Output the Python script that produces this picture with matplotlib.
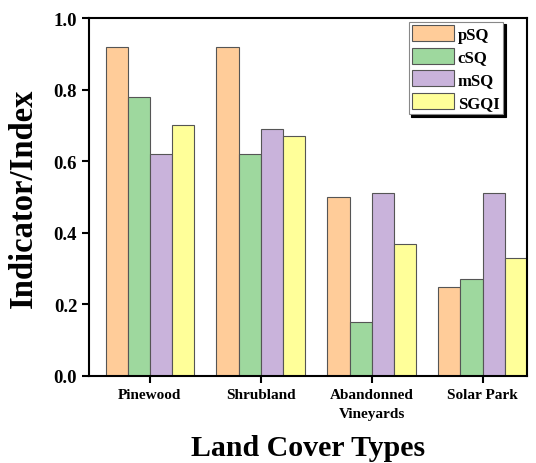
import numpy as np
import matplotlib
matplotlib.use("Agg")
import matplotlib.pyplot as plt

categories = ["Pinewood", "Shrubland", "Abandonned\nVineyards", "Solar Park"]
series_names = ["pSQ", "cSQ", "mSQ", "SGQI"]
pSQ = [0.92, 0.92, 0.50, 0.25]
cSQ = [0.78, 0.62, 0.15, 0.27]
mSQ = [0.62, 0.69, 0.51, 0.51]
SGQI = [0.70, 0.67, 0.37, 0.33]
colors = ["#FFCC99", "#9ED89E", "#C9B3DB", "#FFFF99"]

plt.rcParams["font.family"] = ["Liberation Serif", "DejaVu Serif"]
plt.rcParams["font.weight"] = "bold"

fig = plt.figure(figsize=(5.36, 4.64), dpi=100)
ax = fig.add_axes([0.166, 0.1875, 0.817, 0.7715])

x = np.arange(len(categories))
w = 0.2
for i, (name, vals) in enumerate(zip(series_names, [pSQ, cSQ, mSQ, SGQI])):
    ax.bar(x + (i - 1.5) * w, vals, w, color=colors[i], edgecolor="#555555",
           linewidth=0.8, label=name)

ax.set_xlim(-0.55, 3.4)
ax.set_ylim(0, 1.0)
ax.set_yticks([0.0, 0.2, 0.4, 0.6, 0.8, 1.0])
ax.set_xticks(x)
ax.set_xticklabels(categories, fontsize=11, fontweight="bold", linespacing=1.6)
ax.tick_params(axis="y", labelsize=13.5, direction="out", width=1.5, length=5)
ax.tick_params(axis="x", direction="out", width=1.5, length=5, pad=4)
for s in ax.spines.values():
    s.set_linewidth(1.5)

ax.set_ylabel("Indicator/Index", fontsize=23.5, fontweight="bold")
ax.yaxis.set_label_coords(-0.115, 0.5)
ax.set_xlabel("Land Cover Types", fontsize=21.5, fontweight="bold")
ax.xaxis.set_label_coords(0.5, -0.163)

leg = ax.legend(loc="upper right", bbox_to_anchor=(0.945, 0.99), fontsize=12,
                shadow={"color": "black", "alpha": 1}, fancybox=False,
                handlelength=2.5, handleheight=1.1,
                handletextpad=0.25, borderpad=0.2, labelspacing=0.3,
                borderaxespad=0.0)
leg.get_frame().set_edgecolor("#888888")
leg.get_frame().set_linewidth(0.8)

fig.savefig("out.png", dpi=100)
